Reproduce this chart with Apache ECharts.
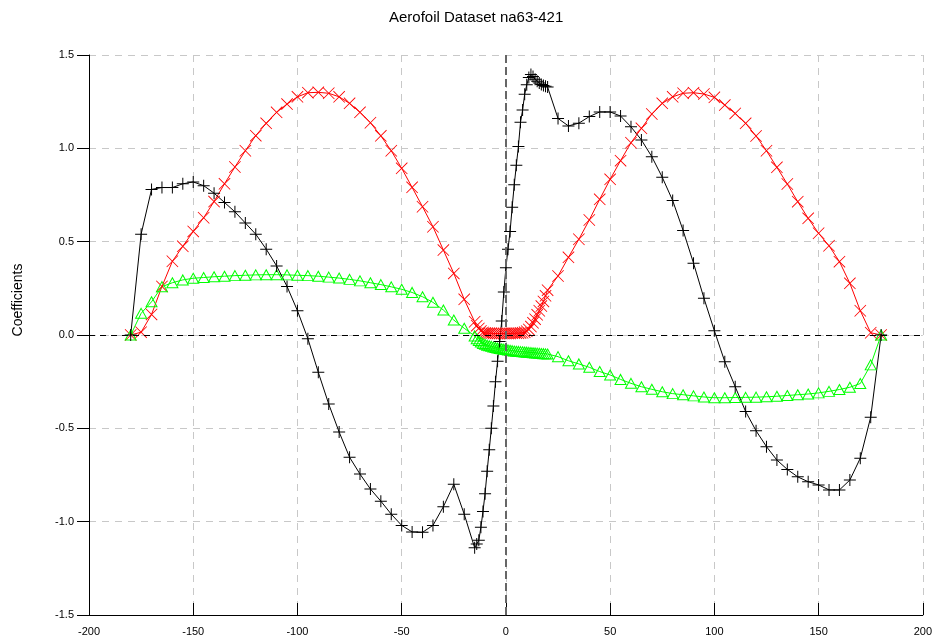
<!DOCTYPE html>
<html>
<head>
<meta charset="utf-8">
<title>Aerofoil Dataset na63-421</title>
<script src="https://cdn.jsdelivr.net/npm/echarts@6/dist/echarts.min.js"></script>
<style>
  html, body { margin: 0; padding: 0; background: #fff; }
  #chart { width: 935px; height: 639px; }
</style>
</head>
<body>
<div id="chart"></div>
<script>
// Angle of attack (deg) for every row of the aerofoil table
const alpha = [
  -180, -175, -170, -165, -160, -155, -150, -145, -140, -135, -130,
  -125, -120, -115, -110, -105, -100, -95, -90, -85, -80, -75, -70,
  -65, -60, -55, -50, -45, -40, -35, -30, -25, -20,
  -15, -14, -13, -12, -11, -10, -9, -8, -7, -6, -5, -4, -3, -2, -1,
  0, 1, 2, 3, 4, 5, 6, 7, 8, 9, 10, 11, 12, 13, 14, 15, 16, 17, 18, 19, 20,
  25, 30, 35, 40, 45, 50, 55, 60, 65, 70, 75, 80, 85, 90, 95, 100,
  105, 110, 115, 120, 125, 130, 135, 140, 145, 150, 155, 160, 165, 170, 175, 180
];

// Lift coefficient
const cl = [
  0, 0.54, 0.78, 0.79, 0.79, 0.81, 0.82, 0.80, 0.76, 0.71, 0.66,
  0.60, 0.54, 0.46, 0.37, 0.26, 0.13, -0.02, -0.20, -0.37, -0.52, -0.655, -0.745,
  -0.825, -0.89, -0.96, -1.02, -1.055, -1.057, -1.02, -0.92, -0.80, -0.96,
  -1.14, -1.12, -1.10, -1.03, -0.945, -0.85, -0.73, -0.615, -0.50, -0.38, -0.25, -0.14, -0.035, 0.075, 0.23,
  0.36, 0.46, 0.555, 0.685, 0.805, 0.91, 1.01, 1.14, 1.205, 1.29, 1.34, 1.38, 1.395, 1.385, 1.37, 1.36, 1.35, 1.342, 1.336, 1.333, 1.328,
  1.16, 1.12, 1.135, 1.17, 1.195, 1.195, 1.173, 1.115, 1.045, 0.955, 0.845, 0.72, 0.56, 0.385, 0.197, 0.023,
  -0.143, -0.277, -0.41, -0.513, -0.598, -0.67, -0.72, -0.76, -0.786, -0.803, -0.83, -0.83, -0.777, -0.66, -0.44, 0
];

// Drag coefficient
const cd = [
  0, 0.015, 0.11, 0.26, 0.395, 0.475, 0.555, 0.628, 0.715, 0.81, 0.90,
  0.987, 1.068, 1.134, 1.193, 1.237, 1.276, 1.298, 1.30, 1.295, 1.276, 1.241, 1.193,
  1.137, 1.067, 0.987, 0.893, 0.791, 0.687, 0.58, 0.455, 0.33, 0.191,
  0.071, 0.05, 0.035, 0.022, 0.014, 0.011, 0.01, 0.009, 0.009, 0.008, 0.008, 0.008, 0.008, 0.008, 0.008,
  0.008, 0.008, 0.008, 0.009, 0.009, 0.01, 0.01, 0.011, 0.012, 0.015, 0.02, 0.03, 0.045, 0.065, 0.085, 0.108, 0.13, 0.155, 0.18, 0.21, 0.24,
  0.316, 0.416, 0.513, 0.616, 0.727, 0.834, 0.934, 1.03, 1.107, 1.184, 1.241, 1.276, 1.295, 1.298, 1.291, 1.273,
  1.232, 1.187, 1.134, 1.066, 0.987, 0.898, 0.809, 0.714, 0.625, 0.545, 0.478, 0.393, 0.277, 0.13, 0.012, 0
];

// Pitching moment coefficient
const cm = [
  0, 0.116, 0.178, 0.259, 0.28, 0.295, 0.304, 0.308, 0.312, 0.315, 0.318,
  0.32, 0.322, 0.323, 0.323, 0.322, 0.32, 0.318, 0.315, 0.31, 0.305, 0.298, 0.29,
  0.28, 0.27, 0.258, 0.245, 0.228, 0.205, 0.175, 0.134, 0.08, 0.036,
  -0.005, -0.02, -0.03, -0.038, -0.045, -0.05, -0.055, -0.058, -0.061, -0.064, -0.067, -0.07, -0.072, -0.074, -0.076,
  -0.078, -0.08, -0.082, -0.084, -0.086, -0.087, -0.088, -0.089, -0.09, -0.091, -0.092, -0.093, -0.094, -0.095, -0.096, -0.097, -0.098, -0.099, -0.1, -0.101, -0.102,
  -0.116, -0.138, -0.155, -0.173, -0.196, -0.214, -0.238, -0.259, -0.277, -0.291, -0.304, -0.314, -0.32, -0.326, -0.332, -0.336,
  -0.336, -0.335, -0.334, -0.333, -0.331, -0.328, -0.324, -0.32, -0.316, -0.31, -0.302, -0.292, -0.28, -0.26, -0.16, 0
];

const chartTitle = 'Aerofoil Dataset na63-421';
const yAxisTitle = 'Coefficients';

// Marker shapes: a thin plus and a thin diagonal cross
const plusSymbol = 'path://M5.5,0H6.5V12H5.5Z M0,5.5H12V6.5H0Z';
const crossSymbol = 'path://M0,0.6L0.6,0L12,11.4L11.4,12Z M11.4,0L12,0.6L0.6,12L0,11.4Z';

const pairs = (ys) => alpha.map((a, i) => [a, ys[i]]);

const FONT = '"Liberation Sans", Arial, sans-serif';

const chart = echarts.init(document.getElementById('chart'), null, { renderer: 'canvas' });

chart.setOption({
  animation: false,
  backgroundColor: '#ffffff',
  title: {
    text: chartTitle,
    left: 389,
    top: 10,
    padding: 0,
    textStyle: { fontFamily: FONT, fontSize: 15, fontWeight: 'normal', color: '#000' }
  },
  graphic: [{
    type: 'text',
    x: 18,
    y: 300,
    rotation: Math.PI / 2,
    style: {
      text: yAxisTitle,
      fill: '#000',
      font: '14px ' + FONT,
      align: 'center',
      verticalAlign: 'middle'
    }
  }],
  grid: { left: 89, right: 10, top: 55, bottom: 24, containLabel: false },
  xAxis: {
    type: 'value',
    min: -200, max: 200, interval: 50,
    axisLine: { show: true, onZero: false, lineStyle: { color: '#000', width: 1 } },
    axisTick: { show: true, inside: true, length: 12, lineStyle: { color: '#000' } },
    axisLabel: { color: '#000', fontFamily: FONT, fontSize: 11, margin: 11 },
    splitLine: { show: true, lineStyle: { color: '#c8c8c8', type: [7, 6], width: 1 } }
  },
  yAxis: {
    type: 'value',
    min: -1.5, max: 1.5, interval: 0.5,
    axisLine: { show: true, onZero: false, lineStyle: { color: '#000', width: 1 } },
    axisTick: { show: true, inside: false, length: 12, lineStyle: { color: '#000' } },
    axisLabel: { color: '#000', fontFamily: FONT, fontSize: 11, margin: 15,
      formatter: (v) => v.toFixed(1) },
    splitLine: { show: true, lineStyle: { color: '#c8c8c8', type: [7, 6], width: 1 } }
  },
  series: [
    {
      name: 'Cd',
      type: 'line',
      data: pairs(cd),
      symbol: crossSymbol,
      symbolSize: 12,
      lineStyle: { color: '#ff0000', width: 1 },
      itemStyle: { color: '#ff0000' }
    },
    {
      name: 'Cm',
      type: 'line',
      data: pairs(cm),
      symbol: 'triangle',
      symbolSize: [11, 10],
      lineStyle: { color: '#00ff00', width: 1 },
      itemStyle: { color: 'rgba(0,0,0,0)', borderColor: '#00ff00', borderWidth: 1 }
    },
    {
      name: 'Cl',
      type: 'line',
      data: pairs(cl),
      symbol: plusSymbol,
      symbolSize: 12,
      lineStyle: { color: '#000000', width: 1 },
      itemStyle: { color: '#000000' },
      markLine: {
        silent: true,
        symbol: 'none',
        label: { show: false },
        animation: false,
        data: [
          { yAxis: 0, lineStyle: { color: '#000000', type: [6, 5], width: 1 } },
          { xAxis: 0, lineStyle: { color: '#666666', type: [8, 4], width: 2 } }
        ]
      }
    }
  ]
});
</script>
</body>
</html>
